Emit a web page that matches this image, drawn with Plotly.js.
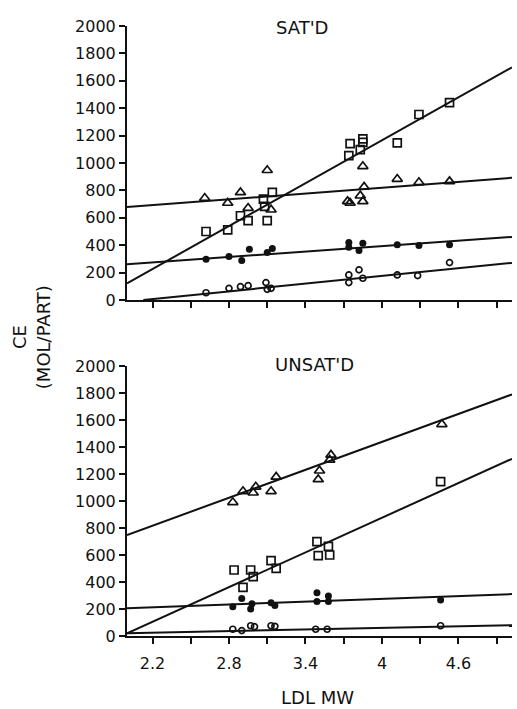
<!DOCTYPE html>
<html>
<head>
<meta charset="utf-8">
<script src="https://cdn.plot.ly/plotly-3.0.1.min.js"></script>
<style>html,body{margin:0;padding:0;background:#fff;}#chart{width:517px;height:709px;}</style>
</head>
<body>
<div id="chart"></div>
<script>
// ---------- DATA ----------
const xTickVals = [2.2, 2.5, 2.8, 3.1, 3.4, 3.7, 4.0, 4.3, 4.6, 4.9];
const xTickText = ["2.2", "", "2.8", "", "3.4", "", "4", "", "4.6", ""];
const yTickVals = [0, 200, 400, 600, 800, 1000, 1200, 1400, 1600, 1800, 2000];
const xRange = [2.0, 5.02];
const yRange = [0, 2000];

// SAT'D panel
const satSquareX = [2.62, 2.79, 2.89, 2.95, 3.07, 3.08, 3.10, 3.14, 3.74, 3.75, 3.83, 3.85, 3.85, 4.12, 4.29, 4.53];
const satSquareY = [500, 512, 615, 580, 737, 683, 580, 785, 1054, 1142, 1098, 1176, 1150, 1147, 1354, 1440];
const satTriX = [2.61, 2.79, 2.89, 2.95, 3.10, 3.13, 3.73, 3.75, 3.83, 3.85, 3.86, 3.85, 4.12, 4.29, 4.53];
const satTriY = [744, 708, 785, 671, 947, 659, 720, 708, 761, 976, 825, 720, 883, 859, 866];
const satFilledX = [2.62, 2.80, 2.90, 2.96, 3.10, 3.14, 3.74, 3.74, 3.82, 3.85, 4.12, 4.29, 4.53];
const satFilledY = [298, 317, 288, 371, 346, 376, 420, 386, 361, 415, 403, 398, 403];
const satOpenX = [2.62, 2.80, 2.89, 2.95, 3.09, 3.10, 3.13, 3.74, 3.74, 3.82, 3.85, 4.12, 4.28, 4.53];
const satOpenY = [53, 85, 97, 105, 127, 78, 85, 183, 127, 220, 159, 183, 178, 273];
// fitted lines: value at x = 2.0 and slope
const satFitAt2 = {square: 122, tri: 678, filled: 261, open: -12};
const satFitSlope = {square: 522, tri: 71, filled: 66, open: 93.7};

// UNSAT'D panel
const unsTriX = [2.83, 2.91, 2.99, 3.01, 3.13, 3.17, 3.50, 3.51, 3.59, 3.60, 4.47];
const unsTriY = [990, 1072, 1061, 1105, 1072, 1178, 1160, 1224, 1304, 1341, 1568];
const unsSquareX = [2.84, 2.91, 2.97, 2.99, 3.13, 3.17, 3.49, 3.50, 3.58, 3.59, 4.46];
const unsSquareY = [489, 360, 489, 440, 558, 501, 699, 595, 664, 600, 1143];
const unsFilledX = [2.83, 2.90, 2.97, 2.98, 3.13, 3.16, 3.49, 3.49, 3.58, 3.58, 4.46];
const unsFilledY = [217, 277, 200, 238, 247, 226, 321, 255, 296, 255, 267];
const unsOpenX = [2.83, 2.90, 2.97, 3.00, 3.13, 3.16, 3.48, 3.57, 4.46];
const unsOpenY = [50, 40, 76, 69, 76, 72, 50, 50, 76];
const unsFitAt2 = {square: 20, tri: 748, filled: 205, open: 20};
const unsFitSlope = {square: 428, tri: 345, filled: 35, open: 20};

// ---------- BUILD ----------
const BLACK = '#111';
function fitLine(a, b, xa, ya) {
  let x0 = xRange[0];
  if (a < 0) x0 = xRange[0] + (-a) / b; // start where the line reaches 0
  const x1 = xRange[1];
  return {
    x: [x0, x1], y: [a + b * (x0 - 2), a + b * (x1 - 2)],
    mode: 'lines', line: {color: BLACK, width: 2}, xaxis: xa, yaxis: ya,
    hoverinfo: 'skip', showlegend: false
  };
}
function pts(x, y, symbol, size, xa, ya) {
  const open = symbol.indexOf('open') >= 0;
  return {
    x: x, y: y, mode: 'markers', xaxis: xa, yaxis: ya, showlegend: false, cliponaxis: false,
    marker: {symbol: symbol, size: size, color: BLACK,
             line: {color: BLACK, width: open ? 1.7 : 0}}
  };
}
const traces = [];
['square', 'tri', 'filled', 'open'].forEach(k => {
  traces.push(fitLine(satFitAt2[k], satFitSlope[k], 'x2', 'y2'));
  traces.push(fitLine(unsFitAt2[k], unsFitSlope[k], 'x', 'y'));
});
traces.push(pts(satSquareX, satSquareY, 'square-open', 8, 'x2', 'y2'));
traces.push(pts(satTriX, satTriY, 'triangle-up-open', 9, 'x2', 'y2'));
traces.push(pts(satFilledX, satFilledY, 'circle', 7, 'x2', 'y2'));
traces.push(pts(satOpenX, satOpenY, 'circle-open', 6, 'x2', 'y2'));
traces.push(pts(unsSquareX, unsSquareY, 'square-open', 8, 'x', 'y'));
traces.push(pts(unsTriX, unsTriY, 'triangle-up-open', 9, 'x', 'y'));
traces.push(pts(unsFilledX, unsFilledY, 'circle', 7, 'x', 'y'));
traces.push(pts(unsOpenX, unsOpenY, 'circle-open', 6, 'x', 'y'));

const FONT = 'DejaVu Sans, Liberation Sans, Arial, sans-serif';
const axBase = {
  showline: true, linecolor: BLACK, linewidth: 2, mirror: false,
  ticks: 'outside', ticklen: 6, tickwidth: 2, tickcolor: BLACK,
  showgrid: false, zeroline: false, fixedrange: true,
  tickfont: {family: FONT, size: 16, color: BLACK}
};
const layout = {
  width: 517, height: 709,
  margin: {l: 127, r: 5, t: 26, b: 73},
  paper_bgcolor: '#fff', plot_bgcolor: '#fff',
  showlegend: false,
  font: {family: FONT, color: BLACK},
  xaxis: Object.assign({}, axBase, {range: xRange, tickmode: 'array', tickvals: xTickVals, ticktext: xTickText, anchor: 'y', ticklabelstandoff: 6}),
  yaxis: Object.assign({}, axBase, {range: yRange, domain: [0, 0.4426], tickmode: 'array', tickvals: yTickVals, anchor: 'x'}),
  xaxis2: Object.assign({}, axBase, {range: xRange, tickmode: 'array', tickvals: xTickVals, showticklabels: false, anchor: 'y2'}),
  yaxis2: Object.assign({}, axBase, {range: yRange, domain: [0.5508, 1], tickmode: 'array', tickvals: yTickVals, anchor: 'x2'}),
  annotations: [
    {text: "SAT'D", xref: 'paper', yref: 'paper', x: 0.455, y: 0.998, xanchor: 'center', yanchor: 'middle', showarrow: false, font: {family: FONT, size: 18, color: BLACK}},
    {text: "UNSAT'D", xref: 'paper', yref: 'paper', x: 0.488, y: 0.4459, xanchor: 'center', yanchor: 'middle', showarrow: false, font: {family: FONT, size: 18, color: BLACK}},
    {text: "CE", xref: 'paper', yref: 'paper', x: -0.2805, y: 0.49, xanchor: 'center', yanchor: 'middle', textangle: -90, showarrow: false, font: {family: FONT, size: 18, color: BLACK}},
    {text: "(MOL/PART)", xref: 'paper', yref: 'paper', x: -0.218, y: 0.49, xanchor: 'center', yanchor: 'middle', textangle: -90, showarrow: false, font: {family: FONT, size: 18, color: BLACK}},
    {text: "LDL MW", xref: 'paper', yref: 'paper', x: 0.495, y: -0.101, xanchor: 'center', yanchor: 'middle', showarrow: false, font: {family: FONT, size: 18, color: BLACK}}
  ]
};
Plotly.newPlot('chart', traces, layout, {displayModeBar: false, staticPlot: true});
</script>
</body>
</html>
